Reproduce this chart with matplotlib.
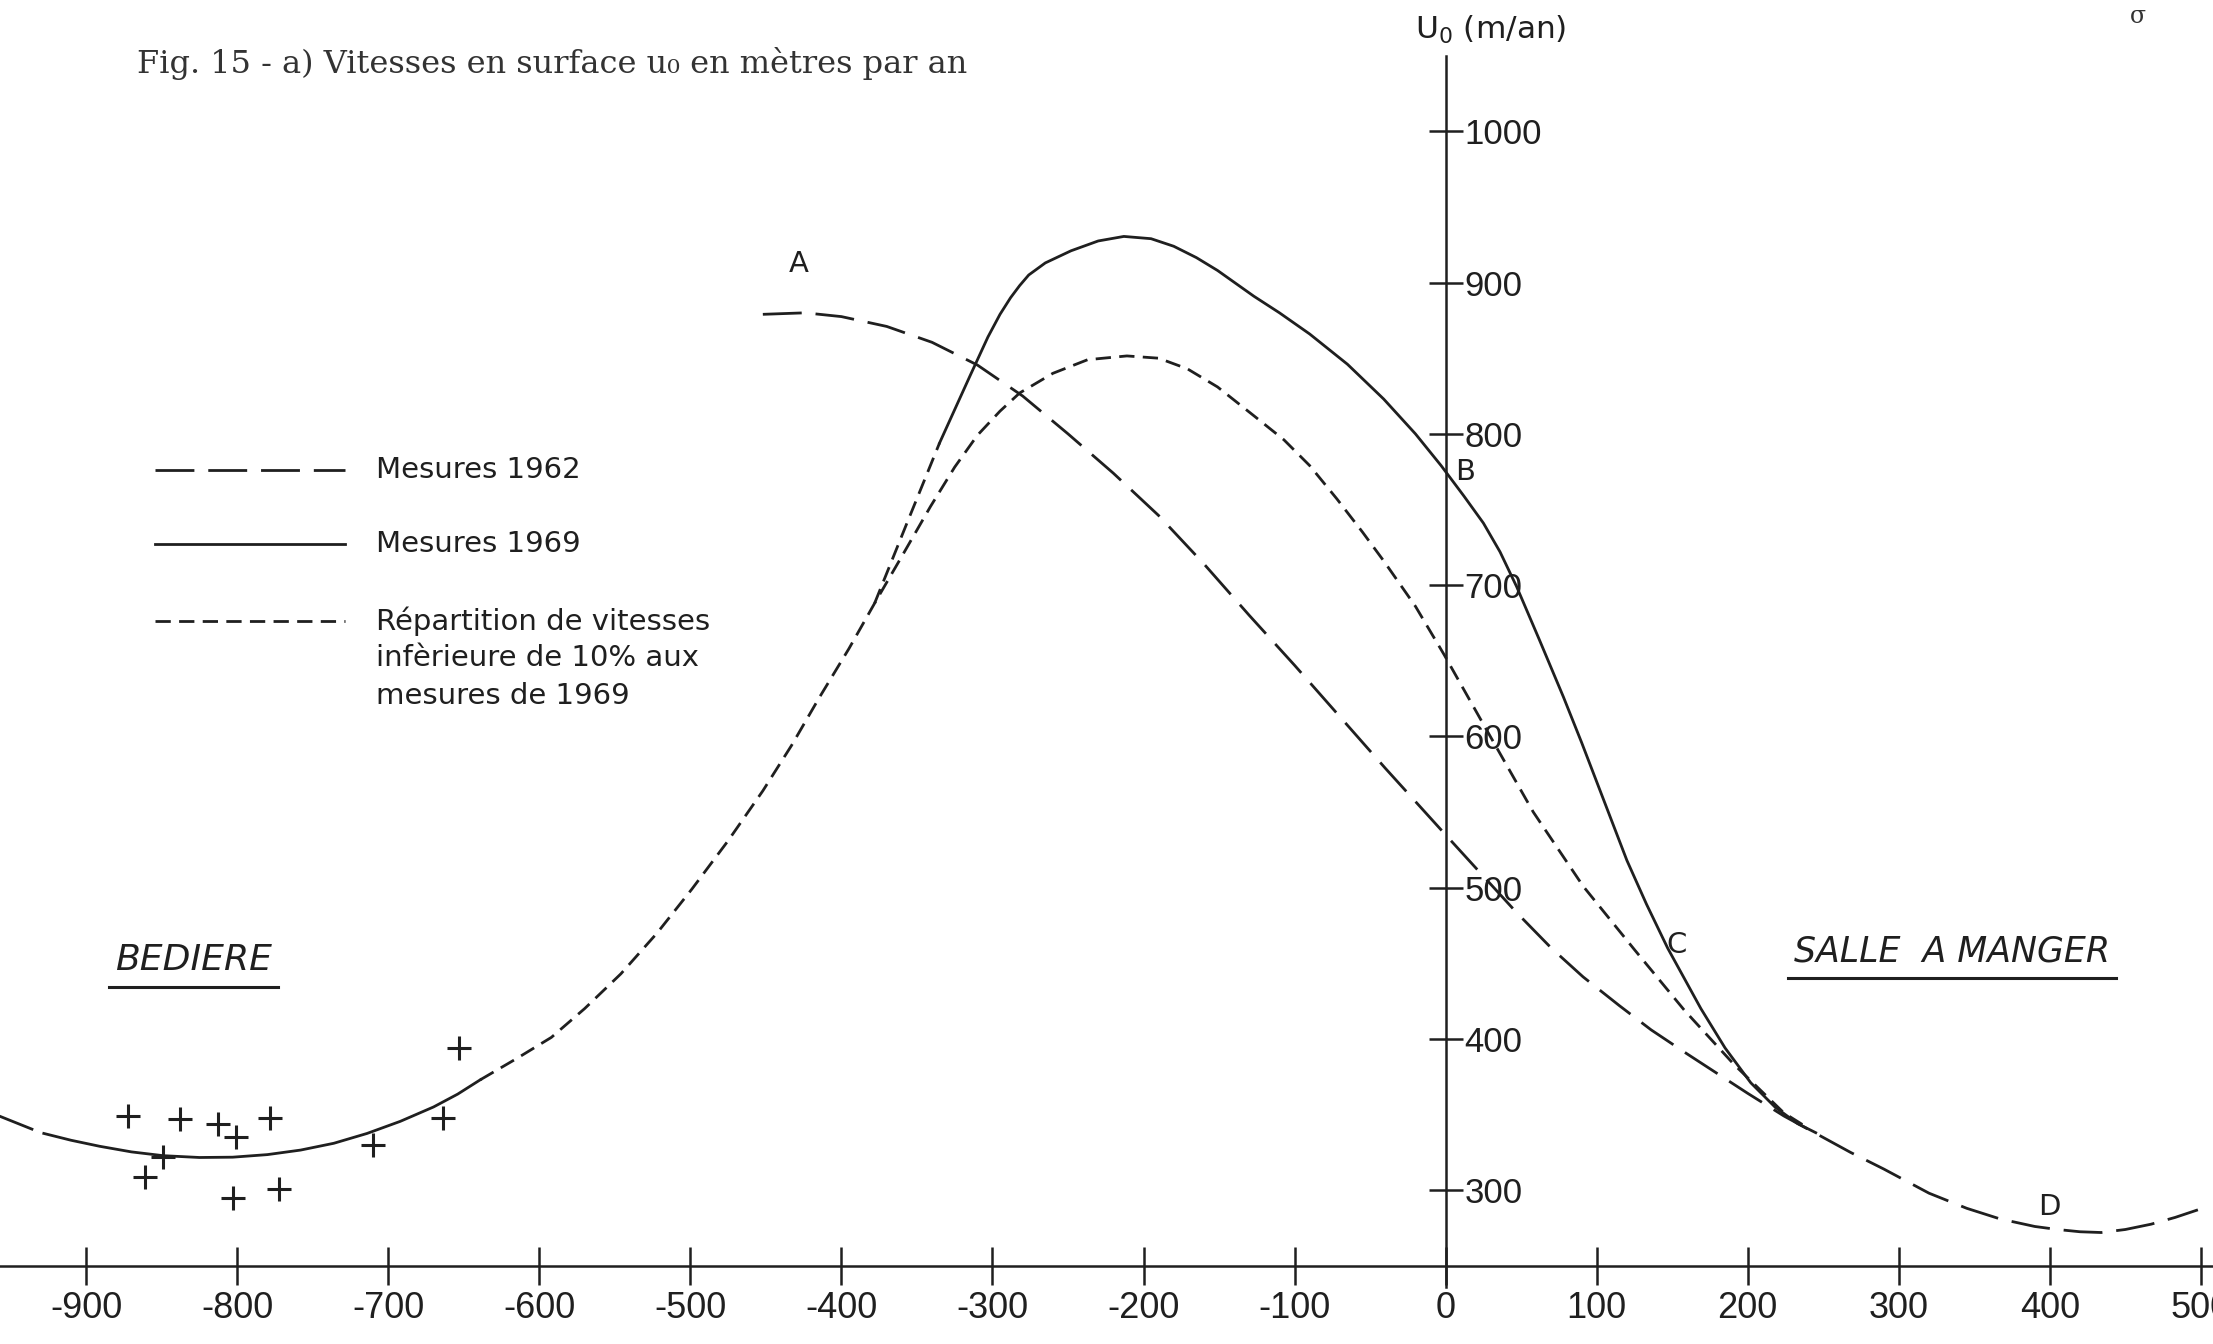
import numpy as np
import matplotlib.pyplot as plt
from matplotlib.lines import Line2D

# abscissa (m) and surface velocity u0 (m/an)

# Mesures 1962 (long dashes)
x_1962 = [-452, -424, -400, -370, -340, -310, -280, -250, -220, -190, -160, -130,
          -100, -70, -40, -1, 20, 47, 70, 91, 115, 136, 160, 180, 200, 224,
          246, 268, 290, 320, 345, 367, 390, 405, 420, 434, 450, 467, 483, 498]
u_1962 = [879, 880, 877.5, 871, 860.5, 845.5, 825, 800, 774, 746, 714, 680,
          647, 613, 579, 536, 513, 483.5, 460, 441, 422, 406, 390, 377, 364, 349,
          337, 325, 314, 298, 288, 281, 276, 274, 272.5, 272, 274, 277.5, 282, 287]
# small piece of the 1962 curve visible at the far left
x_1962_left = [-965, -935]
u_1962_left = [352, 340]

# Mesures 1969 (solid)
x_1969_left = [-928, -910, -891, -870, -849, -825, -803, -780, -758, -736,
               -714, -692, -670, -654, -639]
u_1969_left = [337.5, 333, 329, 325.3, 322.8, 321.6, 321.8, 323.5, 326.5, 331,
               337.5, 345.5, 355, 363.5, 373]
x_1969 = [-335, -315, -303, -295, -288, -282, -276, -265, -248, -230, -213, -195,
          -180, -165, -151, -127, -110, -90, -65, -41, -20, -3, 12, 25, 36, 47,
          62, 78, 90, 100, 110, 120, 133, 147, 158, 169, 185, 202, 218, 233, 245]
u_1969 = [794, 838, 864, 879, 890, 898, 905, 913, 921, 927.5, 930.5, 929,
          924, 916.5, 908, 891, 880, 866, 846, 823, 800, 779, 759, 741, 722, 699,
          664, 626, 596, 570, 544, 518, 489, 460, 440, 420, 394, 371, 355, 344, 338]
# dashed link between the two solid parts of 1969
x_1969_link = [-378, -357, -335]
u_1969_link = [688, 740, 794]

# Repartition inferieure de 10 % (short dashes)
x_10 = [-639, -615, -592, -570, -546, -522, -499, -475, -452, -433, -415, -395,
        -378, -360, -341, -325, -310, -295, -282, -260, -237, -211, -190, -171,
        -151, -127, -107, -90, -72, -55, -41, -20, -1, 25, 58, 91, 125, 158,
        191, 224, 240]
u_10 = [373, 387, 401, 420, 443, 470, 499, 531, 564, 594, 625, 658,
        688, 719, 752, 778, 799, 815, 827, 840, 849, 851.5, 850, 843,
        831, 812, 796, 779, 757, 735, 716, 686, 654, 608, 550, 501, 459, 419,
        383, 351, 341]

# measured points (+)
x_pts = [-872, -838, -813, -778, -801, -849, -861, -803, -772, -710, -664, -653]
u_pts = [349, 347, 343.5, 347.5, 335, 322, 309, 295, 301, 330, 347.5, 394]

x_ticks = list(range(-900, 501, 100))
y_ticks = list(range(300, 1001, 100))

ink = '#1f1f1f'
lw = 2.0
long_dash = (14, 5)
short_dash = (5.5, 3)

fig = plt.figure(figsize=(22.13, 13.44), dpi=100)
ax = fig.add_axes([0, 0, 1, 1])
ax.set_xlim(-957, 508)
ax.set_ylim(198.3, 1086.8)

tick_font = 'Liberation Sans'

# axes drawn through the origin like the hand-drawn figure
ax.spines['top'].set_visible(False)
ax.spines['left'].set_visible(False)
ax.spines['right'].set_position(('data', 0))
ax.spines['right'].set_bounds(236, 1050)
ax.spines['bottom'].set_position(('data', 250))
ax.spines['bottom'].set_bounds(-957, 508)
for s in ('right', 'bottom'):
    ax.spines[s].set_linewidth(1.8)
    ax.spines[s].set_color(ink)
ax.yaxis.set_ticks_position('right')
ax.set_xticks(x_ticks)
ax.set_yticks(y_ticks)
ax.set_xticklabels([str(v) for v in x_ticks], family=tick_font, fontsize=26, color=ink)
ax.set_yticklabels([str(v) for v in y_ticks], family=tick_font, fontsize=25, color=ink)
ax.tick_params(axis='x', direction='inout', length=27, width=1.8, pad=5, color=ink)
ax.tick_params(axis='y', direction='inout', length=25, width=1.8, pad=1, color=ink)

ax.text(-20, 1067, r'U$_\mathregular{0}$ (m/an)', fontsize=22.5, ha='left', va='center', color=ink)

# curves
ax.plot(x_1962, u_1962, color=ink, lw=lw, dashes=long_dash)
ax.plot(x_1962_left, u_1962_left, color=ink, lw=lw, dashes=long_dash)
ax.plot(x_1969_left, u_1969_left, color=ink, lw=lw)
ax.plot(x_1969, u_1969, color=ink, lw=lw)
ax.plot(x_1969_link, u_1969_link, color=ink, lw=lw, dashes=short_dash)
ax.plot(x_10, u_10, color=ink, lw=lw, dashes=short_dash)
ax.plot(x_pts, u_pts, ls='none', marker='+', ms=17, mew=2.2, color=ink)

# point letters
lab = dict(fontsize=21, color=ink)
ax.text(-428, 912, 'A', ha='center', va='center', **lab)
ax.text(6, 775, 'B', ha='left', va='center', **lab)
ax.text(153, 462, 'C', ha='center', va='center', **lab)
ax.text(400, 289, 'D', ha='center', va='center', **lab)

# place names, underlined
places = [ax.text(-829, 452, 'BEDIERE', fontsize=26, style='italic', ha='center', va='center', color=ink),
          ax.text(335, 458, 'SALLE  A MANGER', fontsize=25, style='italic', ha='center', va='center', color=ink)]
fig.canvas.draw()
inv = ax.transAxes.inverted()
for t in places:
    bb = t.get_window_extent()
    (x0, y0), (x1, _) = inv.transform([(bb.x0 - 6, bb.y0 - 10), (bb.x1 + 6, bb.y0)])
    ax.plot([x0, x1], [y0, y0], transform=ax.transAxes, color=ink, lw=2.2)

# legend
leg_x0, leg_x1, leg_tx = 0.070, 0.156, 0.170
leg_font = dict(fontsize=21, color=ink, va='center', ha='left', transform=ax.transAxes)
ax.add_line(Line2D([leg_x0, leg_x1], [0.650, 0.650], transform=ax.transAxes, color=ink, lw=lw, dashes=long_dash))
ax.add_line(Line2D([leg_x0, leg_x1], [0.5956, 0.5956], transform=ax.transAxes, color=ink, lw=lw))
ax.add_line(Line2D([leg_x0, leg_x1], [0.5378, 0.5378], transform=ax.transAxes, color=ink, lw=lw, dashes=short_dash))
ax.text(leg_tx, 0.650, 'Mesures 1962', **leg_font)
ax.text(leg_tx, 0.5956, 'Mesures 1969', **leg_font)
ax.text(leg_tx, 0.5378, 'Répartition de vitesses', **leg_font)
ax.text(leg_tx, 0.5105, 'infèrieure de 10% aux', **leg_font)
ax.text(leg_tx, 0.4822, 'mesures de 1969', **leg_font)

fig.text(0.062, 0.953, 'Fig. 15 - a) Vitesses en surface u₀ en mètres par an',
         family='DejaVu Serif', fontsize=23, color='#333333', ha='left', va='center')
fig.text(0.966, 0.996, 'σ', family='DejaVu Serif', fontsize=17, color='#333333', ha='center', va='top')

fig.savefig('out.png', dpi=100, facecolor='white')
